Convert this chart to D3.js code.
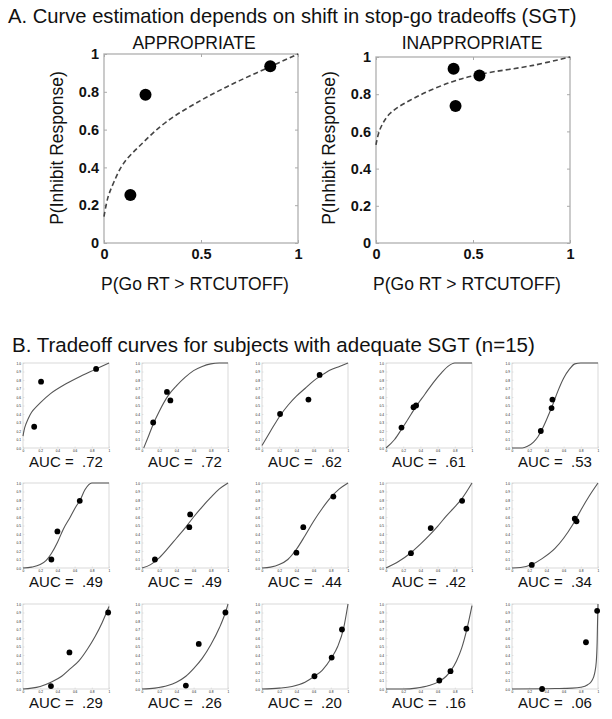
<!DOCTYPE html>
<html>
<head>
<meta charset="utf-8">
<script src="https://cdn.jsdelivr.net/npm/d3@7"></script>
<style>
  body { margin: 0; background: #fff; }
  text { font-family: "Liberation Sans", Arial, sans-serif; fill: #111; }
</style>
</head>
<body>
<svg id="chart"></svg>
<script>
// ---- data ----
const topTitles = ['APPROPRIATE', 'INAPPROPRIATE'];
const topDots = [
  [[0.136, 0.254], [0.214, 0.784], [0.857, 0.935]],
  [[0.40, 0.937], [0.41, 0.736], [0.533, 0.90]]
];
const topCurves = [
  [[0, 0.14], [0.02, 0.24], [0.05, 0.32], [0.1, 0.42], [0.2, 0.53], [0.32, 0.64], [0.5, 0.755], [0.67, 0.845], [0.84, 0.925], [1, 1]],
  [[0, 0.527], [0.02, 0.61], [0.072, 0.696], [0.21, 0.786], [0.39, 0.866], [0.536, 0.907], [0.81, 0.955], [1, 1]]
];
const topTicks = [0, 0.2, 0.4, 0.6, 0.8, 1];
const topXTicks = [0, 0.5, 1];

const aucLabels = ['.72', '.72', '.62', '.61', '.53', '.49', '.49', '.44', '.42', '.34', '.29', '.26', '.20', '.16', '.06'];
const subjectDots = [
  [[0.13, 0.25], [0.21, 0.78], [0.85, 0.93]],
  [[0.13, 0.30], [0.29, 0.66], [0.33, 0.56]],
  [[0.21, 0.40], [0.54, 0.57], [0.67, 0.86]],
  [[0.18, 0.24], [0.32, 0.48], [0.35, 0.50]],
  [[0.335, 0.20], [0.46, 0.47], [0.47, 0.57]],
  [[0.33, 0.10], [0.40, 0.43], [0.66, 0.79]],
  [[0.15, 0.10], [0.55, 0.48], [0.56, 0.63]],
  [[0.40, 0.18], [0.48, 0.48], [0.83, 0.84]],
  [[0.29, 0.175], [0.52, 0.47], [0.885, 0.79]],
  [[0.23, 0.036], [0.73, 0.58], [0.75, 0.55]],
  [[0.325, 0.035], [0.54, 0.43], [0.99, 0.90]],
  [[0.51, 0.04], [0.66, 0.53], [0.97, 0.90]],
  [[0.61, 0.15], [0.81, 0.37], [0.93, 0.70]],
  [[0.62, 0.10], [0.75, 0.21], [0.935, 0.71]],
  [[0.35, 0.0], [0.86, 0.55], [0.99, 0.92]]
];
const subjectCurves = [
  [[0, 0.14], [0.02, 0.24], [0.05, 0.32], [0.1, 0.42], [0.2, 0.53], [0.32, 0.64], [0.5, 0.755], [0.67, 0.845], [0.84, 0.925], [1, 1]],
  [[0.02, 0], [0.08, 0.15], [0.13, 0.28], [0.2, 0.43], [0.3, 0.61], [0.4, 0.73], [0.5, 0.83], [0.6, 0.91], [0.7, 0.96], [0.8, 0.99], [0.9, 1], [1, 1]],
  [[0, 0.03], [0.1, 0.2], [0.21, 0.38], [0.3, 0.5], [0.4, 0.61], [0.5, 0.7], [0.6, 0.79], [0.7, 0.86], [0.8, 0.92], [0.9, 0.96], [1, 1]],
  [[0, 0], [0.1, 0.1], [0.18, 0.22], [0.25, 0.33], [0.35, 0.49], [0.45, 0.63], [0.55, 0.77], [0.65, 0.89], [0.72, 0.96], [0.8, 1], [1, 1]],
  [[0, 0], [0.12, 0], [0.18, 0.02], [0.25, 0.07], [0.3, 0.13], [0.35, 0.22], [0.4, 0.33], [0.47, 0.5], [0.53, 0.66], [0.6, 0.82], [0.67, 0.93], [0.73, 0.99], [0.8, 1], [1, 1]],
  [[0, 0], [0.1, 0.01], [0.2, 0.04], [0.27, 0.09], [0.33, 0.17], [0.4, 0.3], [0.47, 0.46], [0.55, 0.6], [0.62, 0.73], [0.66, 0.79], [0.72, 0.92], [0.8, 1], [1, 1]],
  [[0, 0], [0.1, 0.04], [0.2, 0.12], [0.3, 0.23], [0.4, 0.35], [0.5, 0.47], [0.6, 0.6], [0.7, 0.72], [0.8, 0.83], [0.9, 0.93], [1, 1]],
  [[0, 0], [0.1, 0.01], [0.2, 0.04], [0.3, 0.1], [0.4, 0.22], [0.5, 0.38], [0.6, 0.55], [0.7, 0.7], [0.8, 0.83], [0.9, 0.93], [1, 1]],
  [[0, 0], [0.15, 0.08], [0.29, 0.18], [0.4, 0.28], [0.5, 0.38], [0.6, 0.49], [0.7, 0.61], [0.8, 0.72], [0.885, 0.82], [1, 1]],
  [[0, 0], [0.1, 0.005], [0.23, 0.04], [0.35, 0.11], [0.5, 0.23], [0.6, 0.35], [0.7, 0.5], [0.74, 0.57], [0.8, 0.68], [0.9, 0.85], [1, 1]],
  [[0, 0], [0.1, 0.01], [0.2, 0.03], [0.325, 0.08], [0.45, 0.15], [0.54, 0.23], [0.65, 0.33], [0.75, 0.47], [0.84, 0.62], [0.92, 0.78], [1, 0.97]],
  [[0, 0], [0.15, 0.01], [0.3, 0.04], [0.4, 0.08], [0.51, 0.15], [0.6, 0.24], [0.7, 0.36], [0.8, 0.52], [0.9, 0.72], [0.97, 0.9], [1, 1]],
  [[0, 0], [0.2, 0.01], [0.35, 0.03], [0.5, 0.08], [0.61, 0.15], [0.7, 0.22], [0.81, 0.37], [0.88, 0.5], [0.95, 0.72], [1, 1]],
  [[0, 0], [0.2, 0], [0.35, 0.01], [0.5, 0.04], [0.62, 0.09], [0.7, 0.15], [0.75, 0.21], [0.82, 0.33], [0.88, 0.48], [0.935, 0.68], [1, 0.98]],
  [[0, 0], [0.5, 0.005], [0.7, 0.01], [0.8, 0.02], [0.88, 0.05], [0.93, 0.1], [0.96, 0.18], [0.98, 0.32], [0.99, 0.55], [0.995, 0.8], [1, 1]]
];
const smallXTicks = [0, 0.2, 0.4, 0.6, 0.8, 1];
const smallYTicks = [0, 0.1, 0.2, 0.3, 0.4, 0.5, 0.6, 0.7, 0.8, 0.9, 1];

// ---- layout ----
const width = 612, height = 719;
const svg = d3.select('#chart').attr('width', width).attr('height', height);
svg.append('rect').attr('width', width).attr('height', height).attr('fill', '#fff');

svg.append('text').attr('x', 8).attr('y', 23).attr('font-size', 20.2)
  .text('A. Curve estimation depends on shift in stop-go tradeoffs (SGT)');
svg.append('text').attr('x', 12).attr('y', 352).attr('font-size', 20.5)
  .text('B. Tradeoff curves for subjects with adequate SGT (n=15)');

const fmtTop = d => d === 0 || d === 1 ? d : (d === 0.5 ? '0.5' : d3.format('.1f')(d));

const topBoxes = [
  { x: 104, y: 54, w: 194, h: 189 },
  { x: 376, y: 57, w: 194, h: 186 }
];

topBoxes.forEach((b, i) => {
  const x = d3.scaleLinear().domain([0, 1]).range([b.x, b.x + b.w]);
  const y = d3.scaleLinear().domain([0, 1]).range([b.y + b.h, b.y]);
  const g = svg.append('g');

  g.append('rect').attr('x', b.x).attr('y', b.y).attr('width', b.w).attr('height', b.h)
    .attr('fill', 'none').attr('stroke', '#b5b5b5').attr('stroke-width', 1.4);

  // inward ticks on all sides
  const yAx = d3.axisLeft(y).tickValues(topTicks).tickSize(-3).tickPadding(5).tickFormat(fmtTop);
  const yAxR = d3.axisRight(y).tickValues(topTicks).tickSize(-3).tickFormat('');
  const xAx = d3.axisBottom(x).tickValues(topXTicks).tickSize(-3).tickPadding(6).tickFormat(d => d === 0.5 ? '0.5' : d);
  const xAxT = d3.axisTop(x).tickValues(topXTicks).tickSize(-3).tickFormat('');
  [[yAx, `translate(${b.x},0)`], [yAxR, `translate(${b.x + b.w},0)`],
   [xAx, `translate(0,${b.y + b.h})`], [xAxT, `translate(0,${b.y})`]].forEach(([ax, tr]) => {
    const a = g.append('g').attr('transform', tr).call(ax);
    a.select('.domain').remove();
    a.selectAll('line').attr('stroke', '#aaa');
    a.selectAll('text').attr('font-size', 14.5).attr('font-weight', 'bold')
      .attr('font-family', '"Liberation Sans", Arial, sans-serif').attr('fill', '#222');
  });

  const line = d3.line().x(d => x(d[0])).y(d => y(d[1])).curve(d3.curveCatmullRom.alpha(0.5));
  g.append('path').datum(topCurves[i]).attr('d', line).attr('fill', 'none')
    .attr('stroke', '#444').attr('stroke-width', 1.6).attr('stroke-dasharray', '5,3');

  g.selectAll('circle').data(topDots[i]).join('circle')
    .attr('cx', d => x(d[0])).attr('cy', d => y(d[1])).attr('r', 6).attr('fill', '#000');

  g.append('text').attr('x', b.x + b.w / 2 - (i === 0 ? 7 : 1)).attr('y', 49).attr('text-anchor', 'middle')
    .attr('font-size', 17.5).text(topTitles[i]);
  g.append('text').attr('x', b.x + b.w / 2 - 6).attr('y', 290).attr('text-anchor', 'middle')
    .attr('font-size', 17.5).text('P(Go RT > RTCUTOFF)');
  g.append('text').attr('transform', `translate(${b.x - 41},${148}) rotate(-90)`)
    .attr('text-anchor', 'middle').attr('font-size', 17.5).text('P(Inhibit Response)');
});

// ---- small multiples ----
const colX = [23, 142, 262, 386, 512];
const rowY = [363, 483, 604];
const sw = 86, sh = 85;

aucLabels.forEach((auc, i) => {
  const bx = colX[i % 5], by = rowY[Math.floor(i / 5)];
  const x = d3.scaleLinear().domain([0, 1]).range([bx, bx + sw]);
  const y = d3.scaleLinear().domain([0, 1]).range([by + sh, by]);
  const g = svg.append('g');

  g.append('rect').attr('x', bx).attr('y', by).attr('width', sw).attr('height', sh)
    .attr('fill', 'none').attr('stroke', '#cfcfcf').attr('stroke-width', 0.8);

  const yAx = d3.axisLeft(y).tickValues(smallYTicks).tickSize(-1.5).tickPadding(2).tickFormat(d3.format('.1f'));
  const xAx = d3.axisBottom(x).tickValues(smallXTicks).tickSize(-1.5).tickPadding(2).tickFormat(d => d === 0 || d === 1 ? d : d3.format('.1f')(d));
  [[yAx, `translate(${bx},0)`], [xAx, `translate(0,${by + sh})`]].forEach(([ax, tr]) => {
    const a = g.append('g').attr('transform', tr).call(ax);
    a.select('.domain').remove();
    a.selectAll('line').attr('stroke', '#ccc').attr('stroke-width', 0.5);
    a.selectAll('text').attr('font-size', 3.2).attr('fill', '#999')
      .attr('font-family', '"Liberation Sans", Arial, sans-serif');
  });

  // the concave fit reads smoother with catmull-rom; the rest stay monotone
  const curveType = i === 0 ? d3.curveCatmullRom.alpha(0.5) : d3.curveMonotoneX;
  const line = d3.line().x(d => x(d[0])).y(d => y(d[1])).curve(curveType);
  g.append('path').datum(subjectCurves[i]).attr('d', line).attr('fill', 'none')
    .attr('stroke', '#555').attr('stroke-width', 1.1);

  g.selectAll('circle').data(subjectDots[i]).join('circle')
    .attr('cx', d => x(d[0])).attr('cy', d => y(d[1])).attr('r', 2.9).attr('fill', '#000');

  g.append('text').attr('x', bx + sw / 2).attr('y', by + sh + 19).attr('text-anchor', 'middle')
    .attr('font-size', 15).style('white-space', 'pre').text('AUC =  ' + auc);
});
</script>
</body>
</html>
